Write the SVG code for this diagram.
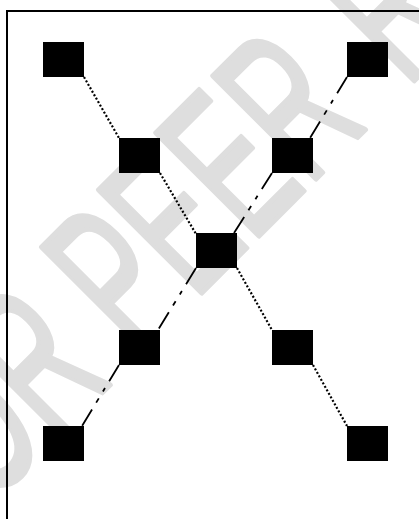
<svg xmlns="http://www.w3.org/2000/svg" width="419" height="519" viewBox="0 0 419 519">
<style>
.node{fill:#000}
.dot{fill:none;stroke:#000;stroke-width:2.2;stroke-dasharray:2 2}
.dd{fill:none;stroke:#000;stroke-width:1.8;stroke-dasharray:19 8 4 8 5 8}
.wm{fill:#dedede;stroke:#dedede;stroke-width:5;stroke-linejoin:round;stroke-linecap:round;font-family:"Liberation Sans",Arial,sans-serif;font-size:212px}
</style>
<rect width="419" height="519" fill="#fff"/>
<g id="watermark">
<text class="wm" transform="rotate(-45) scale(0.571,1)" y="350"><tspan x="-776">FOR</tspan><tspan x="-273.6">PEER</tspan><tspan x="393.7">REVIEW</tspan></text>
</g>
<rect id="frame" x="7" y="11" width="430" height="530" fill="none" stroke="#000" stroke-width="2"/>
<g id="connectors">
<line class="dot" x1="84" y1="77" x2="119" y2="138"/>
<line class="dot" x1="160" y1="173" x2="196" y2="234"/>
<line class="dot" x1="237" y1="268" x2="272" y2="330"/>
<line class="dot" x1="313" y1="365" x2="347" y2="426"/>
<line class="dd" x1="347" y1="77" x2="310" y2="138"/>
<line class="dd" x1="272" y1="173" x2="234" y2="233"/>
<line class="dd" x1="196" y1="268" x2="158" y2="330"/>
<line class="dd" x1="119" y1="365" x2="82" y2="426"/>
</g>
<g id="n1"><rect class="node" x="43" y="42" width="41" height="35"/></g>
<g id="n2"><rect class="node" x="119" y="138" width="41" height="35"/></g>
<g id="n3"><rect class="node" x="196" y="233" width="41" height="35"/></g>
<g id="n4"><rect class="node" x="272" y="330" width="41" height="35"/></g>
<g id="n5"><rect class="node" x="347" y="426" width="41" height="35"/></g>
<g id="n6"><rect class="node" x="347" y="42" width="41" height="35"/></g>
<g id="n7"><rect class="node" x="272" y="138" width="41" height="35"/></g>
<g id="n8"><rect class="node" x="119" y="330" width="41" height="35"/></g>
<g id="n9"><rect class="node" x="43" y="426" width="41" height="35"/></g>
</svg>
